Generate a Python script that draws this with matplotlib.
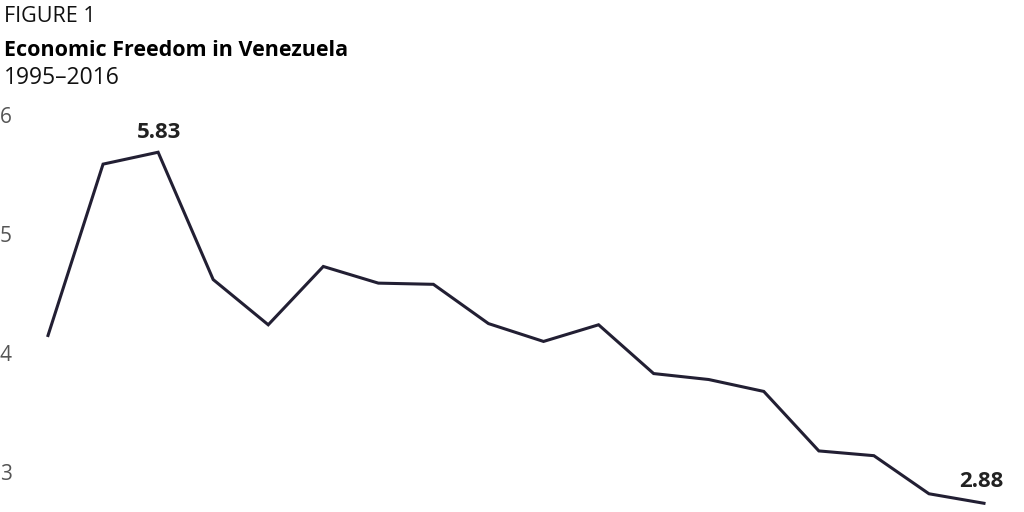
import numpy as np
import matplotlib.pyplot as plt
from matplotlib import transforms

# Fraser index for Venezuela, 1995 then 2000-2016
years = [1995] + list(range(2000, 2017))
scores = [4.29, 5.73, 5.83, 4.76, 4.38, 4.87, 4.73, 4.72, 4.39, 4.24,
          4.38, 3.97, 3.92, 3.82, 3.32, 3.28, 2.96, 2.88]
yticks = [3, 4, 5, 6]

line_color = '#221f33'
W, H = 1024, 512

plt.rcParams['font.family'] = ['Open Sans', 'DejaVu Sans']

fig = plt.figure(figsize=(W / 100, H / 100), dpi=100)
# axes placed in pixel terms: x from 48 to 984, value 6 at y=132 and 3 at y=489
left, right = 48, 984
top, bottom = 132, 489
ax = fig.add_axes([left / W, 1 - bottom / H, (right - left) / W, (bottom - top) / H])

idx = np.arange(len(years))
ax.plot(idx, scores, color=line_color, lw=2.2, clip_on=False, solid_joinstyle='miter')
ax.set_xlim(0, len(years) - 1)
ax.set_ylim(3, 6)
ax.axis('off')

# tick labels sit just above their value
trans = transforms.blended_transform_factory(fig.transFigure, ax.transData)
for t in yticks:
    ax.text(0 / W, t, str(t), transform=trans + transforms.ScaledTranslation(0, 9 / 100, fig.dpi_scale_trans),
            fontsize=15, color='#555555', va='baseline', ha='left')

# annotate peak and last value
imax = int(np.argmax(scores))
ax.annotate(f'{scores[imax]:.2f}', (idx[imax], scores[imax]), xytext=(1, 10),
            textcoords='offset points', ha='center', va='baseline',
            fontsize=16, fontweight='bold', color='#222222', annotation_clip=False)
ax.annotate(f'{scores[-1]:.2f}', (idx[-1], scores[-1]), xytext=(-2, 12),
            textcoords='offset points', ha='center', va='baseline',
            fontsize=16, fontweight='bold', color='#222222', annotation_clip=False)

fig.text(4 / W, 1 - 22 / H, 'FIGURE 1', fontsize=15.5, color='#111111', va='baseline')
fig.text(4 / W, 1 - 56 / H, 'Economic Freedom in Venezuela', fontsize=15.5,
         fontweight='bold', color='#000000', va='baseline')
fig.text(4 / W, 1 - 84 / H, '1995\u20132016', fontsize=16.5, color='#111111', va='baseline')

fig.savefig('out.png', dpi=100)
